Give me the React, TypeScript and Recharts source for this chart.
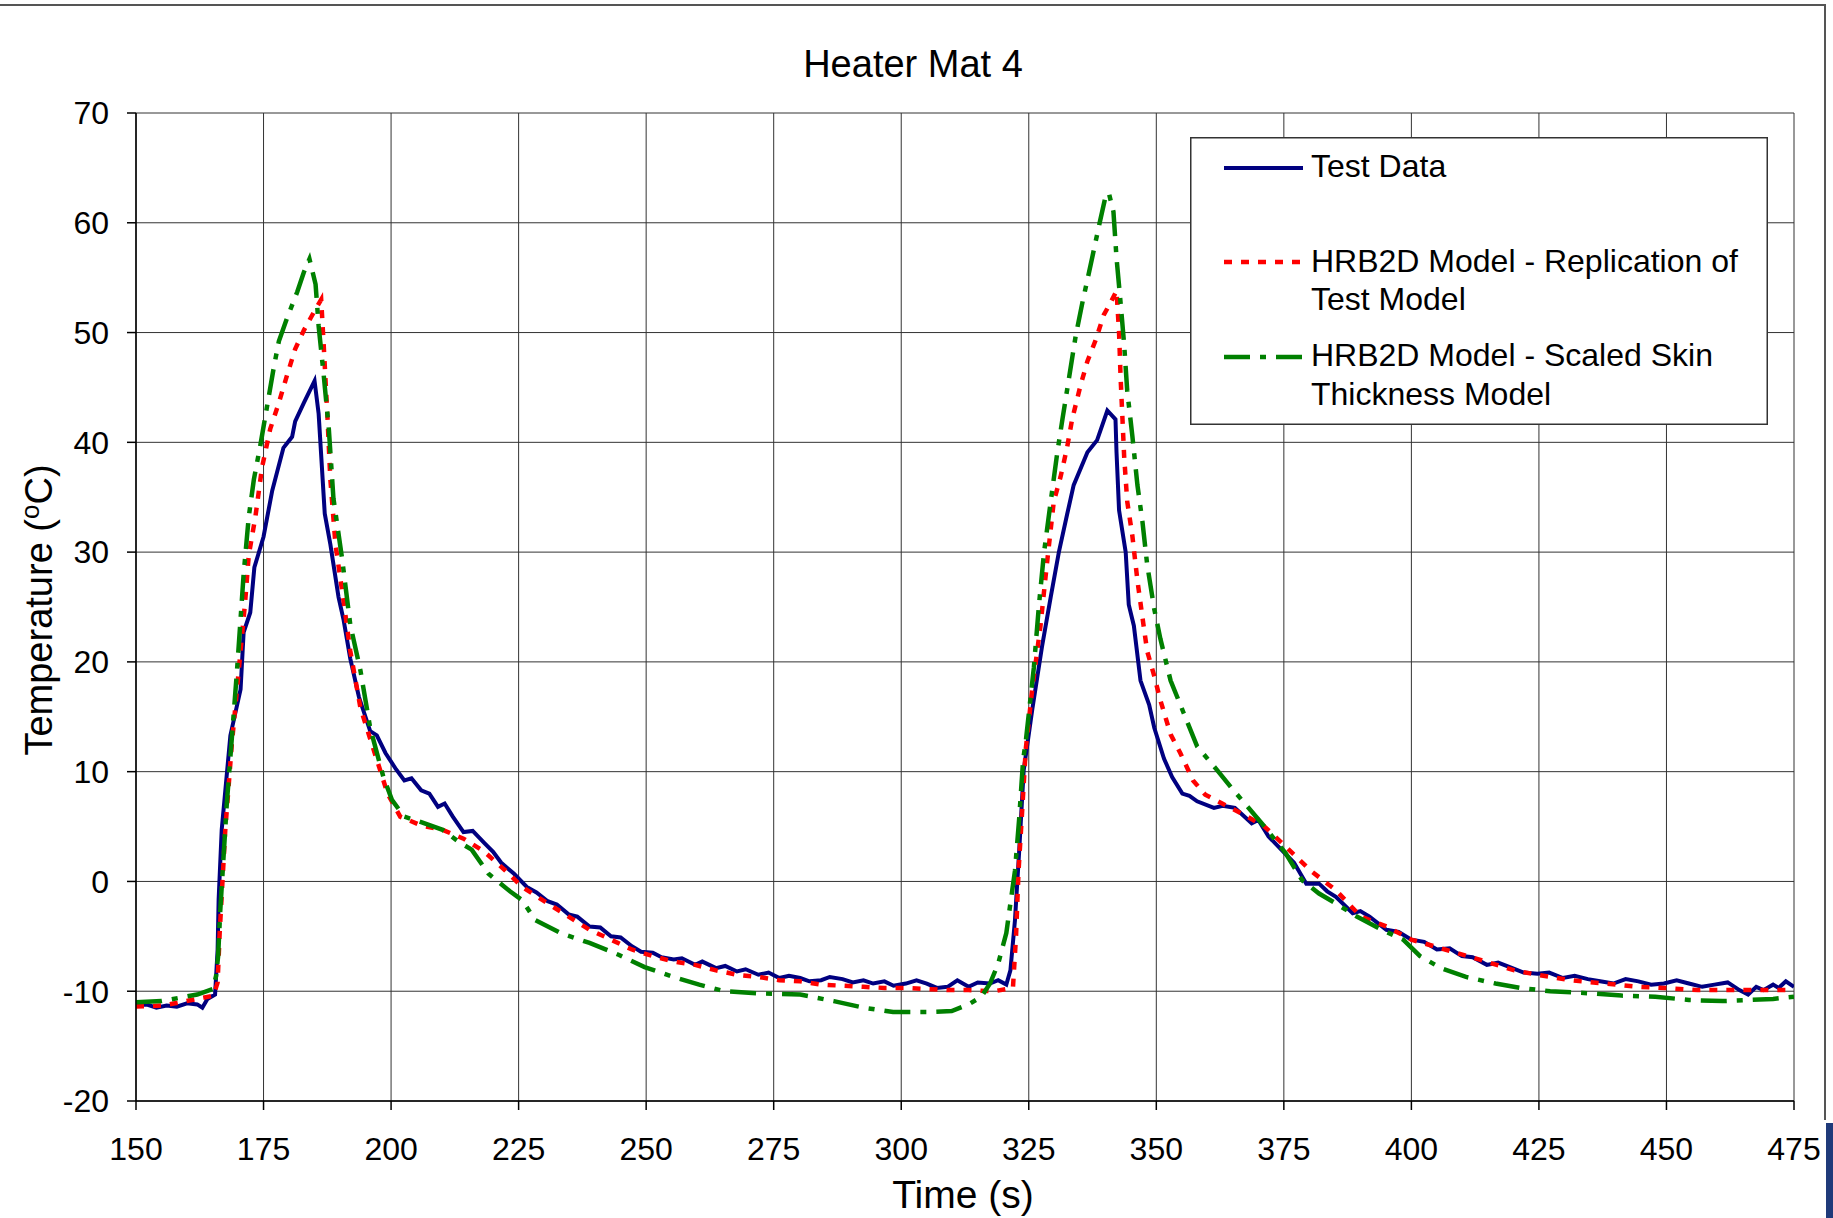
import { LineChart, Line, XAxis, YAxis, CartesianGrid, Legend } from 'recharts';

const FONT = '"Liberation Sans", Arial, sans-serif';

const xTicks = [150, 175, 200, 225, 250, 275, 300, 325, 350, 375, 400, 425, 450, 475];
const yTicks = [-20, -10, 0, 10, 20, 30, 40, 50, 60, 70];

// [time (s), temperature (C)]
const testData: [number, number][] = [
  [150, -11.3], [152, -11.2], [154, -11.5], [156, -11.3], [158, -11.4], [160, -11.1],
  [162, -11.2], [163, -11.5], [164, -10.7], [165.5, -10.3], [166, -6.2], [166.2, -1.6],
  [166.8, 4.7], [168.5, 13.3], [170.5, 17.5], [171.1, 22.7], [172.4, 24.5], [173.2, 28.6],
  [175, 31.4], [176.7, 35.6], [178.9, 39.5], [180.6, 40.5], [181.2, 41.9], [182.9, 43.6],
  [185, 45.6], [185.8, 42.6], [187, 33.5], [188.1, 30.7], [189.7, 25.9], [190.7, 23.8],
  [192, 20.3], [193.7, 16.8], [195.9, 13.7], [197.2, 13.3], [198.9, 11.7], [201, 10.2],
  [202.6, 9.2], [204, 9.4], [205.9, 8.3], [207.5, 8.0], [209.2, 6.8], [210.5, 7.1],
  [212.1, 5.9], [214.2, 4.5], [216, 4.6], [218.3, 3.5], [220, 2.7], [221.6, 1.7],
  [224.1, 0.7], [226.6, -0.5], [228.5, -1.0], [230.7, -1.8], [232.5, -2.1], [234.8, -3.0],
  [236.5, -3.2], [238.9, -4.1], [241, -4.2], [243.1, -5.0], [245, -5.1], [247.2, -5.9],
  [249, -6.4], [251.3, -6.5], [253, -6.9], [255.4, -7.1], [257, -7.0], [259.6, -7.6],
  [261, -7.3], [263.7, -7.9], [265.5, -7.7], [267.8, -8.2], [269.5, -8.0], [272, -8.5],
  [274, -8.3], [276.1, -8.8], [278, -8.6], [280.2, -8.8], [282, -9.1], [284.3, -9.0],
  [286, -8.7], [288.5, -8.9], [290.5, -9.2], [292.6, -9.0], [294.5, -9.3], [296.7, -9.1],
  [298.5, -9.5], [300.9, -9.3], [303, -9.0], [305, -9.3], [307, -9.7], [309.1, -9.6],
  [311, -9.0], [313.2, -9.6], [315, -9.2], [317.4, -9.3], [319, -9.0], [320.6, -9.4],
  [321.4, -8.1], [322.3, -3.5], [323.1, 2.6], [324, 10.1], [325.7, 15.7], [327.6, 21.4],
  [329.3, 25.9], [330.9, 30.0], [332.5, 33.4], [333.8, 36.1], [336.5, 39.1], [338.4, 40.2],
  [340.4, 42.9], [342, 42.1], [342.2, 39.1], [342.7, 33.8], [344, 30.0], [344.6, 25.2],
  [345.6, 23.3], [346.9, 18.3], [348.6, 16.1], [349.6, 14.0], [351.5, 11.2], [353.1, 9.5],
  [355.1, 8.0], [356.5, 7.8], [358, 7.3], [361.3, 6.7], [363, 6.9], [365.4, 6.7],
  [368.7, 5.3], [370, 5.6], [372, 4.1], [374.5, 2.9], [377, 1.7], [379.4, -0.2],
  [381.9, -0.2], [383.5, -0.9], [385.2, -1.4], [388.5, -2.9], [390, -2.7], [391.8, -3.2],
  [395.1, -4.4], [397.5, -4.6], [400, -5.3], [402.5, -5.5], [405, -6.2], [407.5, -6.1],
  [409.9, -6.8], [412, -6.9], [414.8, -7.6], [417, -7.4], [419.8, -7.9], [422, -8.3],
  [424.7, -8.4], [427, -8.3], [429.7, -8.8], [432, -8.6], [434.6, -8.9], [437, -9.1],
  [439.6, -9.3], [442, -8.9], [444.5, -9.1], [447, -9.4], [449.5, -9.3], [452, -9.0],
  [454.4, -9.3], [457, -9.6], [459.4, -9.4], [462, -9.2], [464.3, -9.9], [466, -10.3],
  [467.6, -9.6], [469, -9.9], [470.9, -9.4], [472, -9.7], [473.4, -9.1], [475, -9.6],
];

const replicationModel: [number, number][] = [
  [150, -11.4], [155.3, -11.3], [162, -10.7], [165.2, -10.4], [166, -9.2], [166.4, -4.7],
  [167.5, 4.7], [168.8, 12.6], [169.8, 17.5], [171.4, 25.5], [172.1, 29.7], [173.4, 33.2],
  [174.7, 37.7], [176.3, 41.2], [178, 43.6], [179.6, 46.1], [181.2, 48.5], [182.9, 50.2],
  [184.8, 51.8], [186.3, 53.0], [186.8, 48.8], [187.5, 42.6], [188.1, 36.6], [189.1, 30.7],
  [190.7, 25.5], [192, 21.0], [194, 15.8], [195.9, 13.0], [198.5, 9.2], [199.3, 8.0],
  [201.8, 5.9], [205.9, 5.1], [210.1, 4.7], [214.2, 3.9], [218.3, 2.7], [222.4, 1.0],
  [225.7, -0.5], [230.7, -2.0], [234.8, -3.2], [238.9, -4.4], [243.1, -5.3], [247.2, -6.2],
  [251.3, -6.8], [255.4, -7.3], [259.6, -7.6], [263.7, -8.1], [267.8, -8.5], [272, -8.7],
  [276.1, -9.0], [280.2, -9.1], [284.3, -9.4], [288.5, -9.5], [292.6, -9.6], [296.7, -9.7],
  [300.9, -9.7], [305, -9.8], [309.1, -9.9], [313.2, -9.9], [318.2, -10.0], [321.9, -9.7],
  [322.5, -5.0], [323, 1.0], [323.6, 5.6], [324.4, 12.0], [325.7, 17.6], [327.3, 23.3],
  [328.3, 27.8], [329, 30.8], [329.9, 34.6], [331.2, 36.8], [332.5, 39.5], [333.5, 42.1],
  [335.1, 45.1], [336.5, 47.4], [338.1, 49.3], [339.7, 51.6], [341, 52.7], [342.2, 53.8],
  [342.7, 50.0], [343, 45.9], [343.7, 38.7], [344.3, 34.6], [345.3, 31.5], [346.3, 27.4],
  [347.3, 24.0], [348.2, 21.0], [349.6, 18.7], [350.8, 16.5], [352.8, 13.4], [354.7, 11.7],
  [357.2, 9.2], [359.6, 7.9], [362.9, 7.1], [367.1, 6.1], [371.2, 5.0], [375.3, 3.2],
  [380.2, 1.0], [385.2, -0.8], [390.1, -3.2], [395.1, -4.1], [400, -5.3], [406.6, -6.2],
  [413.2, -7.1], [420.2, -8.1], [424.7, -8.5], [431.3, -9.0], [437.9, -9.3], [444.5, -9.6],
  [449.5, -9.7], [456.1, -9.9], [462.7, -9.9], [469.3, -9.9], [475, -9.9],
];

const scaledSkinModel: [number, number][] = [
  [150, -11.0], [155, -10.9], [162, -10.3], [165.1, -9.8], [165.7, -8.6], [166.1, -6.8],
  [166.5, -2.8], [167.8, 7.1], [169.8, 19.2], [171.1, 28.0], [172.1, 33.2], [173.1, 36.6],
  [174.4, 39.8], [175.7, 43.3], [177, 46.8], [178, 49.2], [179.6, 51.3], [181.6, 53.7],
  [182.9, 55.5], [184, 56.7], [185.2, 54.4], [185.8, 50.6], [186.8, 46.1], [187.8, 41.2],
  [188.7, 34.9], [190.4, 29.4], [192, 23.4], [194, 19.2], [195.9, 14.0], [198.5, 9.5],
  [200.2, 7.4], [202.6, 5.9], [205.9, 5.4], [210.1, 4.7], [213.3, 3.6], [215.8, 2.9],
  [219.1, 0.7], [223.3, -0.9], [225.7, -1.7], [228.2, -3.5], [233.2, -4.7], [238.9, -5.6],
  [244.7, -6.7], [249.7, -7.8], [255.4, -8.7], [260.4, -9.4], [265.3, -10.0], [272, -10.2],
  [280.2, -10.3], [286.8, -10.9], [292.6, -11.5], [298.4, -11.9], [305, -11.9], [309.9, -11.8],
  [313.2, -11.2], [315.7, -10.5], [317.4, -9.3], [319, -7.5], [320.6, -4.7], [321.4, -2.0],
  [322.3, 1.0], [323.1, 5.6], [323.9, 11.1], [324.4, 12.7], [326, 19.5], [327, 25.2],
  [328, 30.0], [329.3, 34.6], [330.6, 39.1], [331.6, 42.1], [332.9, 45.9], [334.2, 49.7],
  [335.5, 52.7], [337.1, 56.1], [338.8, 59.8], [340.1, 62.5], [340.7, 62.7], [341.6, 61.0],
  [342.2, 56.8], [343, 52.7], [343.7, 48.9], [344.3, 44.7], [345.3, 40.6], [346.3, 36.1],
  [347.3, 32.7], [348.2, 28.9], [349.6, 24.8], [350.8, 22.1], [352.8, 18.3], [355.4, 15.3],
  [358, 12.3], [362, 10.1], [364.6, 8.6], [367.9, 6.8], [371.2, 5.0], [375.3, 2.6],
  [378.6, 0.1], [381.9, -1.1], [385.2, -2.0], [389.3, -3.2], [394.2, -4.4], [398.4, -5.3],
  [401.7, -6.8], [405.8, -7.9], [410.7, -8.7], [416.5, -9.3], [421.4, -9.7], [427.2, -10.0],
  [435.4, -10.2], [441.2, -10.4], [447.8, -10.5], [454.4, -10.8], [461, -10.9], [465.9, -10.8],
  [470.9, -10.7], [475, -10.5],
];

const toPoints = (rows: [number, number][]) => rows.map(([t, T]) => ({ t, T }));

const BLUE = '#000080';
const RED = '#ff0000';
const GREEN = '#008000';
const RED_DASH = '8 9';
const GREEN_DASH = '26 10 6 10';

function HeaterLegend() {
  const txt = { fontFamily: FONT, fontSize: 32, fill: '#000' };
  return (
    <svg width={578} height={288} style={{ display: 'block' }}>
      <rect x={0.75} y={0.75} width={576.5} height={286.5} fill="#fff" stroke="#333" strokeWidth={1.5} />
      <line x1={34} x2={113} y1={31} y2={31} stroke={BLUE} strokeWidth={4} />
      <text x={121} y={40} {...txt}>Test Data</text>
      <line x1={34} x2={113} y1={125} y2={125} stroke={RED} strokeWidth={4.5} strokeDasharray={RED_DASH} />
      <text x={121} y={135} {...txt}>HRB2D Model - Replication of</text>
      <text x={121} y={173} {...txt}>Test Model</text>
      <line x1={34} x2={113} y1={220} y2={220} stroke={GREEN} strokeWidth={4.5} strokeDasharray={GREEN_DASH} />
      <text x={121} y={229} {...txt}>HRB2D Model - Scaled Skin</text>
      <text x={121} y={268} {...txt}>Thickness Model</text>
    </svg>
  );
}

function YLabel(props: any) {
  const vb = props.viewBox || { x: 0, y: 113, width: 136, height: 988 };
  const cx = 52;
  const cy = vb.y + vb.height / 2 + 3;
  return (
    <text
      x={cx}
      y={cy}
      transform={`rotate(-90, ${cx}, ${cy})`}
      textAnchor="middle"
      fontFamily={FONT}
      fontSize={38}
      fill="#000"
    >
      Temperature (<tspan dy={-13} fontSize={26}>o</tspan><tspan dy={13}>C)</tspan>
    </text>
  );
}

function XLabel(props: any) {
  const vb = props.viewBox || { x: 136, y: 1101, width: 1658, height: 117 };
  return (
    <text
      x={vb.x + vb.width / 2 - 2}
      y={vb.y + 107}
      textAnchor="middle"
      fontFamily={FONT}
      fontSize={39}
      fill="#000"
    >
      Time (s)
    </text>
  );
}

export default function App() {
  const tick = { fontFamily: FONT, fontSize: 32, fill: '#000' };
  return (
    <div style={{ position: 'absolute', left: 0, top: 0, width: 1833, height: 1218, background: '#fff' }}>
      <LineChart width={1833} height={1218} margin={{ top: 113, right: 39, bottom: 0, left: 0 }}>
        <CartesianGrid stroke="#333" strokeWidth={1} />
        <XAxis
          type="number"
          dataKey="t"
          domain={[150, 475]}
          ticks={xTicks}
          allowDataOverflow
          height={117}
          stroke="#000"
          strokeWidth={1.5}
          tickSize={9}
          tickMargin={27}
          tick={tick}
          label={{ content: XLabel }}
        />
        <YAxis
          type="number"
          dataKey="T"
          domain={[-20, 70]}
          ticks={yTicks}
          allowDataOverflow
          width={136}
          stroke="#000"
          strokeWidth={1.5}
          tickSize={9}
          tickMargin={18}
          tick={tick}
          label={{ content: YLabel }}
        />
        <Legend
          layout="vertical"
          align="center"
          verticalAlign="middle"
          content={() => <HeaterLegend />}
          wrapperStyle={{ position: 'absolute', left: 1190, top: 137, width: 578, height: 288 }}
        />
        <Line
          data={toPoints(testData)}
          dataKey="T"
          name="Test Data"
          type="linear"
          stroke={BLUE}
          strokeWidth={4}
          dot={false}
          isAnimationActive={false}
        />
        <Line
          data={toPoints(replicationModel)}
          dataKey="T"
          name="HRB2D Model - Replication of Test Model"
          type="linear"
          stroke={RED}
          strokeWidth={4.5}
          strokeDasharray={RED_DASH}
          dot={false}
          isAnimationActive={false}
        />
        <Line
          data={toPoints(scaledSkinModel)}
          dataKey="T"
          name="HRB2D Model - Scaled Skin Thickness Model"
          type="linear"
          stroke={GREEN}
          strokeWidth={4.5}
          strokeDasharray={GREEN_DASH}
          dot={false}
          isAnimationActive={false}
        />
      </LineChart>
      <svg
        width={1833}
        height={1218}
        style={{ position: 'absolute', left: 0, top: 0, pointerEvents: 'none' }}
      >
        <text x={913} y={77} textAnchor="middle" fontFamily={FONT} fontSize={38} fill="#000">
          Heater Mat 4
        </text>
        <line x1={0} x2={1826} y1={5} y2={5} stroke="#555" strokeWidth={2} />
        <line x1={1825} x2={1825} y1={5} y2={1120} stroke="#555" strokeWidth={2} />
        <rect x={1826} y={1123} width={7} height={95} fill="#1f3a7a" />
      </svg>
    </div>
  );
}
